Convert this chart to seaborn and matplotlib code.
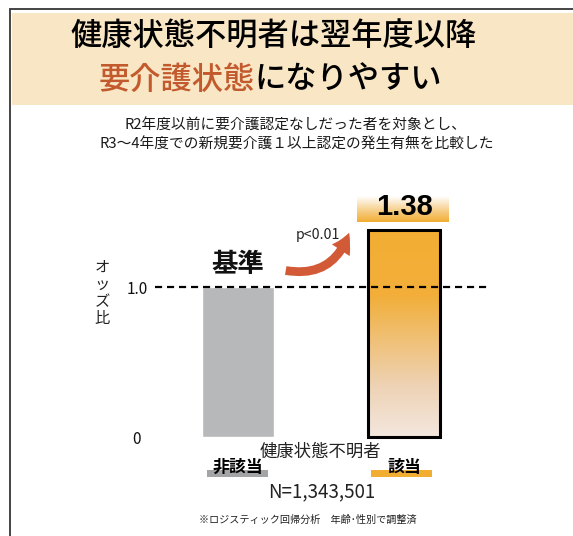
import numpy as np
import matplotlib
matplotlib.use("Agg")
import matplotlib.pyplot as plt
import seaborn as sns
from matplotlib.patches import Rectangle, FancyArrowPatch
from matplotlib.colors import LinearSegmentedColormap
from matplotlib.lines import Line2D

# ---- data ----
categories = ["非該当", "該当"]
odds = [1.0, 1.38]
ytick_vals = [0, 1.0]
ytick_labels = ["0", "1.0"]
title_line1 = "健康状態不明者は翌年度以降"
title_hl = "要介護状態"
title_rest = "になりやすい"
subtitle1 = "R2年度以前に要介護認定なしだった者を対象とし、"
subtitle2 = "R3～4年度での新規要介護１以上認定の発生有無を比較した"
group_label = "健康状態不明者"
n_label = "N=1,343,501"
footnote = "※ロジスティック回帰分析　年齢･性別で調整済"
ref_label = "基準"
p_label = "p<0.01"
ylabel_chars = "オッズ比"

W, H = 573, 536
sns.set_theme(style="white")
plt.rcParams['font.family'] = ['Noto Sans CJK JP', 'DejaVu Sans']

fig = plt.figure(figsize=(W / 100, H / 100), dpi=100)
fig.patch.set_facecolor("white")

def fx(px):
    return px / W

def fy(py):
    return 1 - py / H

# frame and banner
fig.add_artist(Line2D([fx(10), fx(10)], [fy(9), fy(536)], color="#444444", lw=1.4))
fig.add_artist(Line2D([fx(10), fx(573)], [fy(9), fy(9)], color="#444444", lw=1.4))
fig.add_artist(Rectangle((fx(11.5), fy(105)), fx(573) - fx(11.5), fy(13) - fy(105),
                         transform=fig.transFigure, facecolor="#F8E6C4", edgecolor="none"))

# title
fig.text(fx(274), fy(37), title_line1, ha="center", va="center", fontsize=22.5,
         fontweight="medium", color="black")
renderer = fig.canvas.get_renderer()
tmp = fig.text(fx(270), fy(80), title_hl + title_rest, ha="center", va="center",
               fontsize=22.5, fontweight="medium")
bb = tmp.get_window_extent(renderer)
tmp.remove()
t1 = fig.text(bb.x0 / W, fy(80), title_hl, ha="left", va="center", fontsize=22.5,
              fontweight="medium", color="#C35A2E")
bb1 = t1.get_window_extent(renderer)
fig.text(bb1.x1 / W, fy(80), title_rest, ha="left", va="center", fontsize=22.5,
         fontweight="medium", color="black")

# subtitle
fig.text(fx(295), fy(126), subtitle1, ha="center", va="center", fontsize=10.6, color="#1a1a1a")
fig.text(fx(297), fy(145), subtitle2, ha="center", va="center", fontsize=10.6, color="#1a1a1a")

# axes: 0 -> py 437, 1.0 -> py 287 ; x cat 0 -> px 238, cat 1 -> px 404
ax_l, ax_r, ax_t, ax_b = 150, 540, 180, 440
ax = fig.add_axes([fx(ax_l), fy(ax_b), fx(ax_r) - fx(ax_l), fy(ax_t) - fy(ax_b)])
ax.set_facecolor("none")
ppu_x = 166.0
ppu_y = 150.0
def dx(px):
    return (px - 238) / ppu_x
def dy(py):
    return (437 - py) / ppu_y

sns.barplot(x=categories, y=odds, hue=categories, palette=["#B7B8BA", "#F2AE33"],
            width=0.43, legend=False, ax=ax, saturation=1)
ax.set_xlim(dx(ax_l), dx(ax_r))
ax.set_ylim(dy(ax_b), dy(ax_t))
for s in ax.spines.values():
    s.set_visible(False)
ax.grid(False)

# gradient on orange bar
bar = ax.patches[1]
x0 = bar.get_x()
bw = bar.get_width()
cmap = LinearSegmentedColormap.from_list(
    "og", [(0.0, "#F3E7DE"), (0.25, "#EED2B4"), (0.5, "#F0BE6E"), (0.68, "#F2AF3A"), (1.0, "#F2AE33")])
grad = np.linspace(0, 1, 256).reshape(-1, 1)
im = ax.imshow(grad, cmap=cmap, origin="lower", aspect="auto",
               extent=[x0, x0 + bw, 0, odds[1]], zorder=2)
im.set_clip_path(bar)
bar.set_facecolor("none")
bar.set_edgecolor("black")
bar.set_linewidth(2.2)
bar.set_zorder(3)
ax.set_xlim(dx(ax_l), dx(ax_r))
ax.set_ylim(dy(ax_b), dy(ax_t))

# dashed reference line
ax.plot([dx(155), dx(487)], [odds[0], odds[0]], color="black", lw=1.6,
        ls=(0, (3.2, 2.2)), zorder=4)

# ticks
ax.set_yticks(ytick_vals)
ax.set_yticklabels(ytick_labels)
ax.tick_params(axis="y", length=0, pad=9.5, labelsize=11, labelcolor="#111111")
for lab in ax.get_yticklabels():
    lab.set_horizontalalignment("center")
ax.tick_params(axis="x", length=0, pad=13, labelsize=12.2, labelcolor="black")
for lab in ax.get_xticklabels():
    lab.set_fontweight("bold")

# strips under category labels
strip_cols = ["#A3A4A6", "#F2AE33"]
strip_px = [(207, 268), (371, 432)]
for (a, b), c in zip(strip_px, strip_cols):
    ax.add_patch(Rectangle((dx(a), dy(477)), dx(b) - dx(a), dy(470) - dy(477),
                           facecolor=c, edgecolor="none", clip_on=False, zorder=0.5))

# value label band and text
band = np.linspace(0, 1, 128).reshape(-1, 1)
bcmap = LinearSegmentedColormap.from_list("band", [(0, "#F2AE33"), (0.45, "#F6CF8A"), (1, "#FFFFFF")])
ax.imshow(band, cmap=bcmap, origin="lower", aspect="auto",
          extent=[dx(357), dx(449), dy(222), dy(196)], zorder=1)
ax.set_xlim(dx(ax_l), dx(ax_r))
ax.set_ylim(dy(ax_b), dy(ax_t))
ax.text(1, dy(207), f"{odds[1]:.2f}", ha="center", va="center", fontsize=21,
        fontweight="bold", family="Liberation Sans", color="black", zorder=5)

# reference label
ax.text(0, dy(265), ref_label, ha="center", va="center", fontsize=19,
        fontweight="bold", color="#111111", zorder=5)

# arrow
arr = FancyArrowPatch((dx(283), dy(270)), (dx(350), dy(230)),
                      connectionstyle="arc3,rad=0.45",
                      arrowstyle="simple,head_width=1.1,head_length=1.0,tail_width=0.45",
                      mutation_scale=14, color="#D25A36", lw=0, zorder=5)
ax.add_patch(arr)
ax.text(dx(318), dy(235), p_label, ha="center", va="center", fontsize=10.2, color="#222222")

# y label stacked
fig.text(fx(102), fy(293), "\n".join(ylabel_chars), ha="center", va="center",
         fontsize=11, linespacing=1.0, color="#222222")

# bottom texts
fig.text(fx(320), fy(452), group_label, ha="center", va="center", fontsize=12.5, color="#222222")
fig.text(fx(322), fy(492), n_label, ha="center", va="center", fontsize=13.5, color="#222222")
fig.text(fx(308), fy(520), footnote, ha="center", va="center", fontsize=7.3, color="#222222")

fig.savefig("out.png", dpi=100, facecolor="white")
